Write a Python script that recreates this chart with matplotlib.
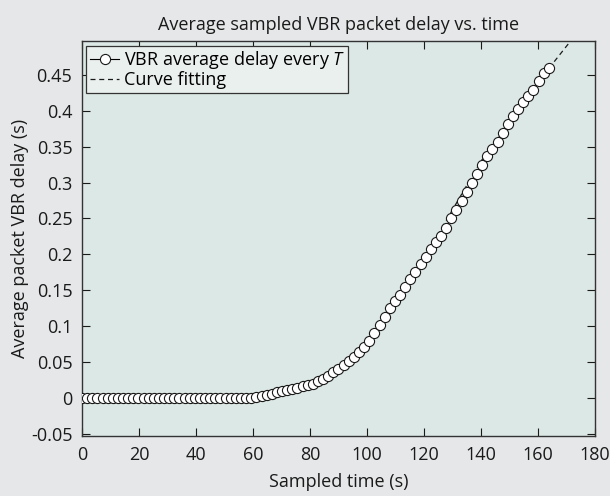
import matplotlib
matplotlib.use("Agg")
import matplotlib.pyplot as plt

plt.rcParams['font.family'] = ['Open Sans', 'DejaVu Sans']
plt.rcParams['mathtext.fontset'] = 'custom'
plt.rcParams['mathtext.it'] = 'Open Sans:italic'
plt.rcParams['mathtext.rm'] = 'Open Sans'

# Sampled times (s)
times = [0.0, 1.8, 3.6, 5.4, 7.2, 9.0, 10.8, 12.6, 14.4, 16.2,
         18.0, 19.8, 21.6, 23.4, 25.2, 27.0, 28.8, 30.6, 32.4, 34.2,
         36.0, 37.8, 39.6, 41.4, 43.2, 45.0, 46.8, 48.6, 50.4, 52.2,
         54.0, 55.8, 57.6, 59.4, 61.2, 63.0, 64.8, 66.6, 68.4, 70.2,
         72.0, 73.8, 75.6, 77.4, 79.2, 81.0, 82.8, 84.6, 86.4, 88.2,
         90.0, 91.8, 93.6, 95.4, 97.2, 99.0, 100.8, 102.6, 104.4, 106.2,
         108.0, 109.8, 111.6, 113.4, 115.2, 117.0, 118.8, 120.6, 122.4, 124.2,
         126.0, 127.8, 129.6, 131.4, 133.2, 135.0, 136.8, 138.6, 140.4, 142.2,
         144.0, 145.8, 147.6, 149.4, 151.2, 153.0, 154.8, 156.6, 158.4, 160.2,
         162.0, 163.8]

# Average VBR delay every T (s)
avg_delay = [0.0, 0.0, 0.0, 0.0, 0.0, 0.0, 0.0, 0.0, 0.0, 0.0,
             0.0, 0.0, 0.0, 0.0, 0.0, 0.0, 0.0, 0.0, 0.0, 0.0,
             0.0, 0.0, 0.0, 0.0, 0.0, 0.0, 0.0, 0.0, 0.0, 0.0,
             0.0, 0.0, 0.0, 0.0, 0.001, 0.003, 0.004, 0.006, 0.008, 0.010,
             0.011, 0.013, 0.014, 0.016, 0.018, 0.020, 0.023, 0.027, 0.031, 0.036,
             0.041, 0.046, 0.051, 0.057, 0.064, 0.071, 0.079, 0.090, 0.102, 0.113,
             0.125, 0.135, 0.143, 0.154, 0.165, 0.175, 0.186, 0.197, 0.207, 0.217,
             0.226, 0.237, 0.250, 0.262, 0.275, 0.287, 0.299, 0.312, 0.325, 0.337,
             0.347, 0.357, 0.369, 0.381, 0.393, 0.402, 0.412, 0.420, 0.429, 0.441,
             0.452, 0.459]

# Curve fitting
fit_times = [0, 60, 65, 70, 75, 80, 85, 90, 95, 100, 105, 110, 115, 120,
             125, 130, 135, 140, 145, 150, 155, 160, 165, 170, 175]
fit_delay = [0.0, 0.001, 0.004, 0.009, 0.014, 0.019, 0.028, 0.041, 0.058, 0.077,
             0.106, 0.137, 0.167, 0.200, 0.228, 0.262, 0.296, 0.330, 0.355, 0.386,
             0.412, 0.439, 0.465, 0.490, 0.515]

xticks = [0, 20, 40, 60, 80, 100, 120, 140, 160, 180]
yticks = [-0.05, 0, 0.05, 0.1, 0.15, 0.2, 0.25, 0.3, 0.35, 0.4, 0.45]
ytick_labels = ['-0.05', '0', '0.05', '0.1', '0.15', '0.2', '0.25', '0.3', '0.35', '0.4', '0.45']

fig = plt.figure(figsize=(6.1, 4.96), dpi=100, facecolor='#e6e7e8')
ax = fig.add_axes([0.1344, 0.121, 0.841, 0.796])
ax.set_facecolor('#dce8e5')

ax.plot(times, avg_delay, '-', color='black', lw=0.8, marker='o', ms=7.3,
        mfc='white', mec='#1a1a1a', mew=0.8, label='VBR average delay every $T$', zorder=3)
ax.plot(fit_times, fit_delay, color='#1a1a1a', lw=0.9, dashes=(4, 3),
        label='Curve fitting', zorder=2)

ax.set_xlim(0, 180)
ax.set_ylim(-0.053, 0.497)
ax.set_xticks(xticks)
ax.set_xticklabels([str(t) for t in xticks])
ax.set_yticks(yticks)
ax.set_yticklabels(ytick_labels)
ax.tick_params(direction='in', top=True, right=True, length=6, width=0.8,
               labelsize=13, colors='#1a1a1a', pad=7)
for s in ax.spines.values():
    s.set_color('#333333')
    s.set_linewidth(1.0)

ax.set_title('Average sampled VBR packet delay vs. time', fontsize=13, pad=8, color='#1a1a1a')
ax.set_xlabel('Sampled time (s)', fontsize=13, color='#1a1a1a', labelpad=7)
ax.set_ylabel('Average packet VBR delay (s)', fontsize=13, color='#1a1a1a', labelpad=1)

leg = ax.legend(loc='upper left', fontsize=13, frameon=True, fancybox=False,
                handlelength=1.6, handletextpad=0.25, borderpad=0.2, labelspacing=0.0,
                borderaxespad=0.25, facecolor='#eaf0ee', edgecolor='#333333', framealpha=1)
leg.get_frame().set_linewidth(0.9)

fig.savefig('out.png', dpi=100, facecolor=fig.get_facecolor())
